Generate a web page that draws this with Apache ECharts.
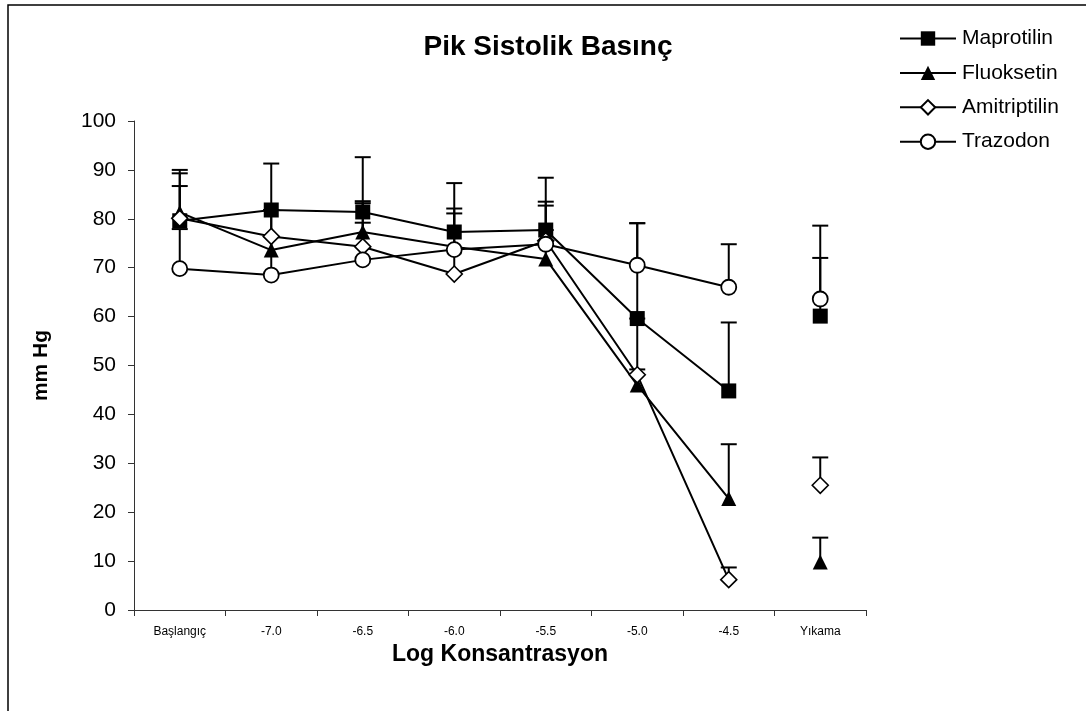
<!DOCTYPE html>
<html>
<head>
<meta charset="utf-8">
<script src="https://cdn.jsdelivr.net/npm/echarts@6/dist/echarts.min.js"></script>
<style>
  html, body { margin: 0; padding: 0; background: #fff; }
  #chart { width: 1086px; height: 711px; }
</style>
</head>
<body>
<div id="chart"></div>
<script>
// Categories (log concentration steps)
const categories = ['Başlangıç', '-7.0', '-6.5', '-6.0', '-5.5', '-5.0', '-4.5', 'Yıkama'];

// Mean peak systolic pressure (mm Hg)
const maprotilin   = [79.6, 81.8, 81.4, 77.3, 77.7, 59.6, 44.8, 60.1];
const fluoksetin   = [81.3, 73.6, 77.3, 74.3, 71.8, 46.0, 22.8, 9.8];
const amitriptilin = [80.1, 76.4, 74.3, 68.7, 75.5, 48.1, 6.2, 25.5];
const trazodon     = [69.8, 68.5, 71.6, 73.7, 74.8, 70.5, 66.0, 63.6];

// Upper error bar lengths
const maprotilinErr   = [10.4, 9.5, 11.2, 10.0, 10.7, 19.5, 14.0, 11.9];
const fluoksetinErr   = [8.0, 8.2, 6.3, 6.8, 10.9, 3.2, 11.1, 5.0];
const amitriptilinErr = [6.6, 5.4, 4.9, 5.1, 2.2, 11.5, 2.5, 5.7];
const trazodonErr     = [8.1, 7.9, 11.6, 8.4, 8.7, 8.6, 8.8, 15.0];

const yTicks = { min: 0, max: 100, interval: 10 };

const FONT = "'Liberation Sans', Arial, sans-serif";

const seriesDefs = [
  { name: 'Maprotilin',   values: maprotilin,   err: maprotilinErr,   symbol: 'rect',     size: 15, fill: '#000', bw: 0 },
  { name: 'Fluoksetin',   values: fluoksetin,   err: fluoksetinErr,   symbol: 'triangle', size: 15, fill: '#000', bw: 0 },
  { name: 'Amitriptilin', values: amitriptilin, err: amitriptilinErr, symbol: 'diamond',  size: 16, fill: '#fff', bw: 1.6 },
  { name: 'Trazodon',     values: trazodon,     err: trazodonErr,     symbol: 'circle',   size: 15, fill: '#fff', bw: 1.8 }
];

// Plus-direction error bars with a cap, drawn beneath the markers
function errorRender(params, api) {
  const x = api.value(0);
  const base = api.coord([x, api.value(1)]);
  const top = api.coord([x, api.value(2)]);
  const half = 8;
  return {
    type: 'group',
    children: [
      { type: 'line', shape: { x1: base[0], y1: base[1], x2: top[0], y2: top[1] },
        style: { stroke: '#000', lineWidth: 2 } },
      { type: 'line', shape: { x1: top[0] - half, y1: top[1], x2: top[0] + half, y2: top[1] },
        style: { stroke: '#000', lineWidth: 2 } }
    ]
  };
}

const series = [];
const lastIdx = categories.length - 1;

seriesDefs.forEach(d => {
  series.push({
    name: d.name + ' SD',
    type: 'custom',
    renderItem: errorRender,
    data: d.values.map((v, i) => [i, v, v + d.err[i]]),
    z: 1,
    silent: true
  });
});

seriesDefs.forEach(d => {
  const style = { color: d.fill, borderColor: '#000', borderWidth: d.bw, opacity: 1 };
  // Connected points up to -4.5
  series.push({
    name: d.name,
    type: 'line',
    data: d.values.slice(0, lastIdx),
    symbol: d.symbol,
    symbolSize: d.size,
    showSymbol: true,
    showAllSymbol: true,
    lineStyle: { color: '#000', width: 2 },
    itemStyle: style,
    z: 2
  });
});

seriesDefs.forEach(d => {
  const style = { color: d.fill, borderColor: '#000', borderWidth: d.bw, opacity: 1 };
  // Washout point, not joined to the curve
  series.push({
    name: d.name,
    type: 'scatter',
    data: [[lastIdx, d.values[lastIdx]]],
    symbol: d.symbol,
    symbolSize: d.size,
    itemStyle: style,
    z: 2
  });
});

const chart = echarts.init(document.getElementById('chart'), null, { renderer: 'canvas' });

chart.setOption({
  animation: false,
  backgroundColor: '#fff',
  textStyle: { fontFamily: FONT, color: '#000' },
  grid: { left: 134, right: 220, top: 121, bottom: 101 },
  graphic: [
    { type: 'rect', shape: { x: 8, y: 5, width: 1200, height: 800 },
      style: { fill: 'none', stroke: '#000', lineWidth: 1.5 }, silent: true, z: 0 },
    { type: 'text', x: 548, y: 47,
      style: { text: 'Pik Sistolik Basınç', align: 'center', verticalAlign: 'middle',
               font: 'bold 28px ' + FONT, fill: '#000' }, silent: true }
  ],
  legend: {
    orient: 'vertical',
    left: 894,
    top: 23,
    itemWidth: 56,
    itemHeight: 18,
    itemGap: 13.4,
    data: seriesDefs.map(d => d.name),
    textStyle: { fontSize: 21, fontFamily: FONT, color: '#000', padding: [0, 0, 0, 1] },
    selectedMode: false
  },
  xAxis: {
    type: 'category',
    data: categories,
    boundaryGap: true,
    name: 'Log Konsantrasyon',
    nameLocation: 'middle',
    nameGap: 30,
    nameTextStyle: { fontSize: 23, fontWeight: 'bold', fontFamily: FONT, color: '#000' },
    axisLine: { lineStyle: { color: '#333', width: 1 } },
    axisTick: { show: true, length: 6, inside: false, alignWithLabel: false, lineStyle: { color: '#333' } },
    axisLabel: { fontSize: 12, color: '#000', margin: 16, fontFamily: FONT, interval: 0 },
    splitLine: { show: false }
  },
  yAxis: {
    type: 'value',
    min: yTicks.min,
    max: yTicks.max,
    interval: yTicks.interval,
    name: 'mm Hg',
    nameLocation: 'middle',
    nameGap: 82,
    nameTextStyle: { fontSize: 21, fontWeight: 'bold', fontFamily: FONT, color: '#000' },
    axisLine: { show: true, lineStyle: { color: '#333', width: 1 } },
    axisTick: { show: true, length: 6, lineStyle: { color: '#333' } },
    axisLabel: { fontSize: 21, color: '#000', margin: 18, fontFamily: FONT },
    splitLine: { show: false }
  },
  series: series
});
</script>
</body>
</html>
